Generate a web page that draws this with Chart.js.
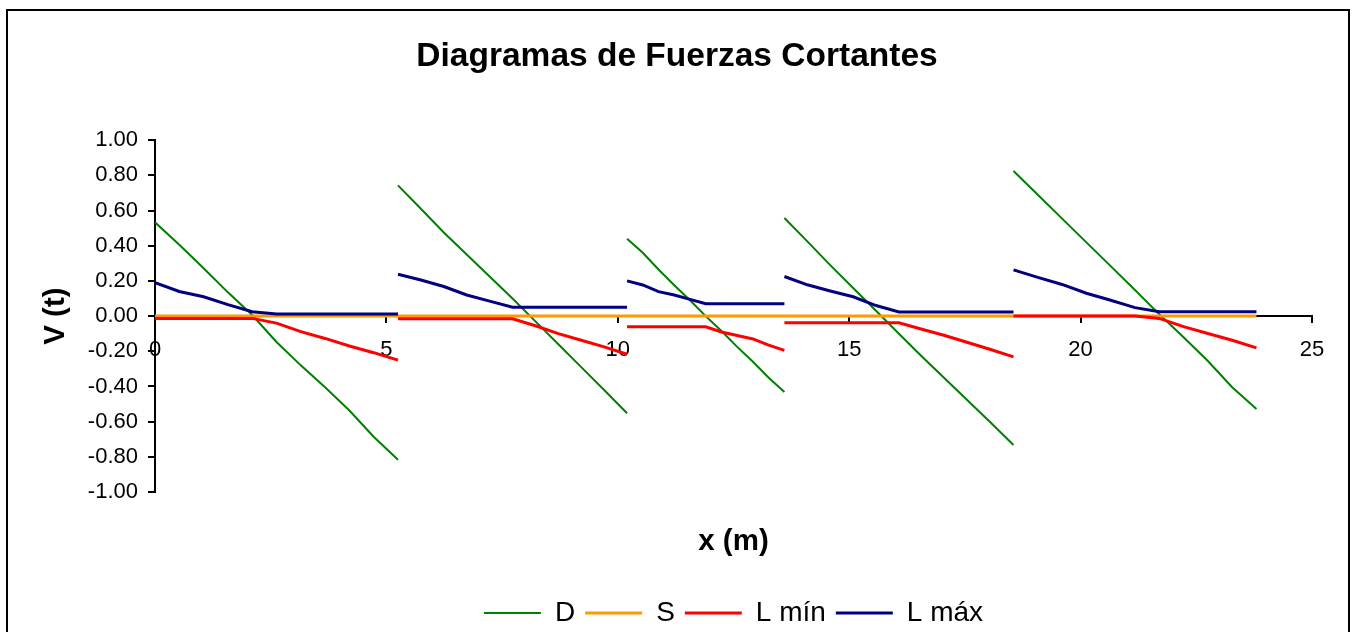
<!DOCTYPE html>
<html>
<head>
<meta charset="utf-8">
<script src="https://cdn.jsdelivr.net/npm/chart.js@4.4.1/dist/chart.umd.min.js"></script>
<style>
  html, body { margin: 0; padding: 0; background: #fff; overflow: hidden; }
  #wrap { position: relative; width: 1354px; height: 632px; }
  #marco { position: absolute; left: 6px; top: 9px; width: 1344px; height: 700px;
           border: 2px solid #000; box-sizing: border-box; pointer-events: none; }
</style>
</head>
<body>
<div id="wrap">
  <canvas id="grafico"></canvas>
  <div id="marco"></div>
</div>
<script>
// =====================
// DATOS
// =====================
const titulo = "Diagramas de Fuerzas Cortantes";
const series = ["D", "S", "L mín", "L máx"];

// estaciones x (m) de cada tramo
const xTramo1 = [0, 0.525, 1.05, 1.575, 2.1, 2.625, 3.15, 3.675, 4.2, 4.725, 5.25];
const xTramo2 = [5.25, 5.745, 6.24, 6.735, 7.23, 7.725, 8.22, 8.715, 9.21, 9.705, 10.2];
const xTramo3 = [10.2, 10.54, 10.88, 11.22, 11.56, 11.9, 12.24, 12.58, 12.92, 13.26, 13.6];
const xTramo4 = [13.6, 14.095, 14.59, 15.085, 15.58, 16.075, 16.57, 17.065, 17.56, 18.055, 18.55];
const xTramo5 = [18.55, 19.075, 19.6, 20.125, 20.65, 21.175, 21.7, 22.225, 22.75, 23.275, 23.8];

// V (t) - D
const dTramo1 = [0.533, 0.406, 0.272, 0.135, 0.006, -0.147, -0.28, -0.404, -0.537, -0.686, -0.817];
const dTramo2 = [0.743, 0.61, 0.475, 0.35, 0.225, 0.10, -0.03, -0.16, -0.29, -0.42, -0.552];
const dTramo3 = [0.44, 0.36, 0.265, 0.175, 0.09, 0.0, -0.085, -0.175, -0.26, -0.35, -0.432];
const dTramo4 = [0.558, 0.425, 0.29, 0.16, 0.03, -0.10, -0.23, -0.355, -0.48, -0.605, -0.733];
const dTramo5 = [0.825, 0.69, 0.554, 0.419, 0.284, 0.148, 0.01, -0.12, -0.255, -0.404, -0.528];

// V (t) - S
const sTramo1 = [0, 0, 0, 0, 0, 0, 0, 0, 0, 0, 0];
const sTramo2 = [0, 0, 0, 0, 0, 0, 0, 0, 0, 0, 0];
const sTramo3 = [0, 0, 0, 0, 0, 0, 0, 0, 0, 0, 0];
const sTramo4 = [0, 0, 0, 0, 0, 0, 0, 0, 0, 0, 0];
const sTramo5 = [0, 0, 0, 0, 0, 0, 0, 0, 0, 0, 0];

// V (t) - L mín
const lminTramo1 = [-0.013, -0.013, -0.013, -0.013, -0.013, -0.04, -0.088, -0.127, -0.17, -0.208, -0.25];
const lminTramo2 = [-0.015, -0.015, -0.015, -0.015, -0.015, -0.015, -0.055, -0.10, -0.137, -0.175, -0.217];
const lminTramo3 = [-0.061, -0.061, -0.061, -0.061, -0.061, -0.061, -0.09, -0.11, -0.13, -0.165, -0.195];
const lminTramo4 = [-0.038, -0.038, -0.038, -0.038, -0.038, -0.038, -0.075, -0.11, -0.15, -0.19, -0.232];
const lminTramo5 = [0, 0, 0, 0, 0, 0, -0.013, -0.06, -0.099, -0.137, -0.181];

// V (t) - L máx
const lmaxTramo1 = [0.19, 0.14, 0.11, 0.065, 0.025, 0.012, 0.012, 0.012, 0.012, 0.012, 0.012];
const lmaxTramo2 = [0.238, 0.205, 0.168, 0.12, 0.085, 0.05, 0.05, 0.05, 0.05, 0.05, 0.05];
const lmaxTramo3 = [0.20, 0.177, 0.139, 0.12, 0.095, 0.07, 0.07, 0.07, 0.07, 0.07, 0.07];
const lmaxTramo4 = [0.225, 0.178, 0.143, 0.11, 0.06, 0.023, 0.023, 0.023, 0.023, 0.023, 0.023];
const lmaxTramo5 = [0.263, 0.22, 0.18, 0.13, 0.09, 0.048, 0.025, 0.025, 0.025, 0.025, 0.025];

// ejes
const xTicks = [0, 5, 10, 15, 20, 25];
const yTicks = [-1.0, -0.8, -0.6, -0.4, -0.2, 0.0, 0.2, 0.4, 0.6, 0.8, 1.0];

// =====================
// HELPERS
// =====================
const tramosX = [xTramo1, xTramo2, xTramo3, xTramo4, xTramo5];

// une los tramos con un hueco (null) entre cada uno
function puntos(tramosY) {
  const out = [];
  tramosY.forEach((ys, t) => {
    ys.forEach((y, i) => out.push({ x: tramosX[t][i], y: y }));
    if (t < tramosY.length - 1) out.push({ x: tramosX[t][ys.length - 1], y: null });
  });
  return out;
}

const FUENTE = "'Liberation Sans', Arial, Helvetica, sans-serif";
Chart.defaults.font.family = FUENTE;
Chart.defaults.color = "#000";

// =====================
// GRÁFICO
// =====================
new Chart(document.getElementById("grafico"), {
  type: "line",
  data: {
    datasets: [
      { label: series[0], data: puntos([dTramo1, dTramo2, dTramo3, dTramo4, dTramo5]),
        borderColor: "#008000", backgroundColor: "#008000", borderWidth: 2, order: 4 },
      { label: series[1], data: puntos([sTramo1, sTramo2, sTramo3, sTramo4, sTramo5]),
        borderColor: "#FF9900", backgroundColor: "#FF9900", borderWidth: 3, order: 3 },
      { label: series[2], data: puntos([lminTramo1, lminTramo2, lminTramo3, lminTramo4, lminTramo5]),
        borderColor: "#FF0000", backgroundColor: "#FF0000", borderWidth: 3, order: 2 },
      { label: series[3], data: puntos([lmaxTramo1, lmaxTramo2, lmaxTramo3, lmaxTramo4, lmaxTramo5]),
        borderColor: "#000080", backgroundColor: "#000080", borderWidth: 3, order: 1 }
    ]
  },
  options: {
    responsive: true,
    maintainAspectRatio: false,
    animation: false,
    devicePixelRatio: 1,
    spanGaps: false,
    elements: { point: { radius: 0, hoverRadius: 0 }, line: { tension: 0 } },
    layout: { padding: { left: 42, right: 42, top: 12, bottom: -5 } },
    plugins: {
      tooltip: { enabled: false },
      title: {
        display: true,
        text: titulo,
        color: "#000",
        font: { size: 33.5, weight: "bold" },
        padding: { top: 25, bottom: 63 }
      },
      legend: {
        position: "bottom",
        fullSize: false,
        labels: {
          color: "#000",
          font: { size: 28 },
          usePointStyle: true,
          pointStyle: "line",
          pointStyleWidth: 57,
          padding: 10,
          sort: (a, b) => a.datasetIndex - b.datasetIndex
        }
      }
    },
    scales: {
      x: {
        type: "linear",
        position: { y: 0 },
        min: xTicks[0],
        max: xTicks[xTicks.length - 1],
        afterBuildTicks: s => { s.ticks = xTicks.map(v => ({ value: v })); },
        grid: { display: true, drawOnChartArea: false, drawTicks: true, tickLength: 6,
                color: "#000", lineWidth: 2 },
        border: { display: true, color: "#000", width: 2 },
        ticks: { font: { size: 22 }, padding: 15, maxRotation: 0, autoSkip: false, color: "#000" },
        title: { display: false }
      },
      // eje auxiliar: sólo reserva el espacio bajo el gráfico y lleva el título "x (m)"
      xTitulo: {
        type: "linear",
        axis: "x",
        position: "bottom",
        min: 0,
        max: 1,
        afterFit: s => { s.height = 97; },
        grid: { display: false },
        border: { display: false },
        ticks: { display: false },
        title: { display: true, text: "x (m)", font: { size: 29.5, weight: "bold" },
                 padding: { top: 0, bottom: 29.3 }, color: "#000" }
      },
      y: {
        type: "linear",
        position: "left",
        min: yTicks[0],
        max: yTicks[yTicks.length - 1],
        afterBuildTicks: s => { s.ticks = yTicks.map(v => ({ value: v })); },
        afterFit: s => { s.width = 113; },
        grid: { display: true, drawOnChartArea: false, drawTicks: true, tickLength: 7,
                color: "#000", lineWidth: 2 },
        border: { display: true, color: "#000", width: 2 },
        ticks: { font: { size: 22 }, padding: 10, color: "#000",
                 callback: v => (Math.abs(v) < 1e-9 ? 0 : v).toFixed(2) },
        title: { display: true, text: "V (t)", font: { size: 29.5, weight: "bold" },
                 padding: { top: -3.7, bottom: 0 }, color: "#000" }
      }
    }
  }
});
</script>
</body>
</html>
